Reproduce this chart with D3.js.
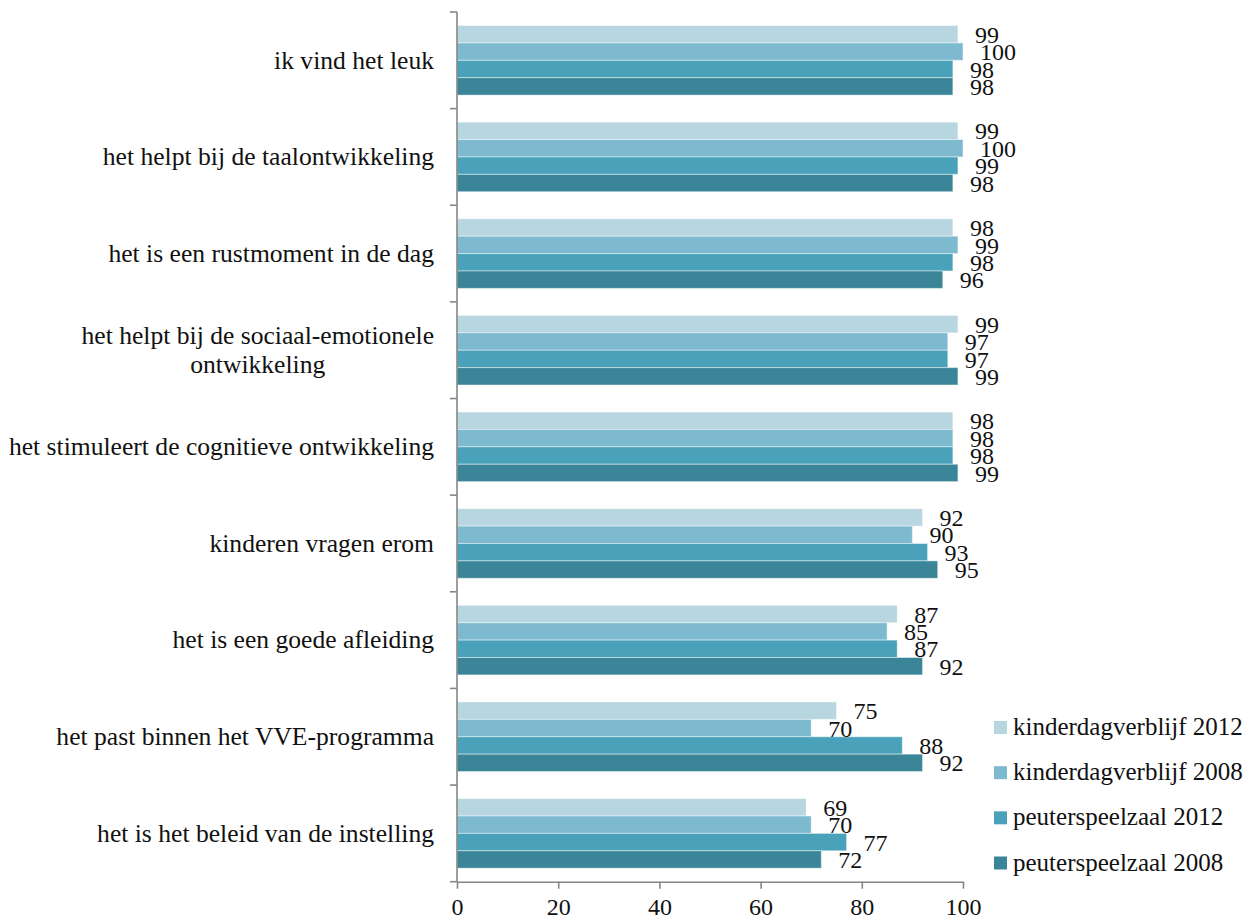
<!DOCTYPE html>
<html>
<head>
<meta charset="utf-8">
<script src="https://cdn.jsdelivr.net/npm/d3@7"></script>
<style>
  html, body { margin: 0; padding: 0; background: #fff; }
</style>
</head>
<body>
<svg id="chart" width="1247" height="921"></svg>
<script>
const categories = [
  ["ik vind het leuk"],
  ["het helpt bij de taalontwikkeling"],
  ["het is een rustmoment in de dag"],
  ["het helpt bij de sociaal-emotionele", "ontwikkeling"],
  ["het stimuleert de cognitieve ontwikkeling"],
  ["kinderen vragen erom"],
  ["het is een goede afleiding"],
  ["het past binnen het VVE-programma"],
  ["het is het beleid van de instelling"]
];
const seriesNames = ["kinderdagverblijf 2012", "kinderdagverblijf 2008", "peuterspeelzaal 2012", "peuterspeelzaal 2008"];
const kdv2012 = [99, 99, 98, 99, 98, 92, 87, 75, 69];
const kdv2008 = [100, 100, 99, 97, 98, 90, 85, 70, 70];
const psz2012 = [98, 99, 98, 97, 98, 93, 87, 88, 77];
const psz2008 = [98, 98, 96, 99, 99, 95, 92, 92, 72];
const xTicks = [0, 20, 40, 60, 80, 100];
const colors = ["#b7d6e0", "#7dbacf", "#49a2b9", "#3a8698"];

const seriesValues = [kdv2012, kdv2008, psz2012, psz2008];
const catKeys = categories.map(c => c.join(" "));
const FONT = "'Liberation Serif', 'DejaVu Serif', serif";

const svg = d3.select("#chart").attr("font-family", FONT);
const plotLeft = 457, plotRight = 963, plotTop = 12, plotBottom = 881.7;

const x = d3.scaleLinear().domain([0, 100]).range([plotLeft, plotRight]);
const y = d3.scaleBand().domain(catKeys).range([plotTop, plotBottom]).padding(0);
const step = y.bandwidth();
const inner = d3.scaleBand().domain(seriesNames).range([step * 0.14, step * 0.86]).padding(0);

// bars
const g = svg.append("g");
catKeys.forEach((ck, i) => {
  seriesNames.forEach((s, j) => {
    const v = seriesValues[j][i];
    const yy = y(ck) + inner(s);
    g.append("rect")
      .attr("x", x(0))
      .attr("y", yy)
      .attr("width", x(v) - x(0))
      .attr("height", inner.bandwidth())
      .attr("fill", colors[j])
      .attr("stroke", "rgba(255,255,255,0.45)")
      .attr("stroke-width", 1);
  });
});

// value labels
catKeys.forEach((ck, i) => {
  seriesNames.forEach((s, j) => {
    const v = seriesValues[j][i];
    const yy = y(ck) + inner(s) + inner.bandwidth() / 2;
    svg.append("text")
      .attr("x", x(v) + 17)
      .attr("y", yy)
      .attr("dy", "0.36em")
      .attr("font-family", FONT)
      .attr("font-size", 24)
      .attr("fill", "#111")
      .text(v);
  });
});

const axisColor = "#868686";

// y axis line + boundary ticks
svg.append("line")
  .attr("x1", plotLeft).attr("x2", plotLeft)
  .attr("y1", plotTop).attr("y2", plotBottom)
  .attr("stroke", axisColor).attr("stroke-width", 1.6);
const bounds = catKeys.map(ck => y(ck)).concat([plotBottom]);
svg.selectAll(".ytick").data(bounds).enter().append("line")
  .attr("x1", plotLeft - 7).attr("x2", plotLeft)
  .attr("y1", d => d).attr("y2", d => d)
  .attr("stroke", axisColor).attr("stroke-width", 1.6);

// x axis
const xAxis = svg.append("g")
  .attr("transform", `translate(0,${plotBottom})`)
  .call(d3.axisBottom(x).tickValues(xTicks).tickSize(7).tickSizeOuter(0));
xAxis.attr("font-family", FONT);
xAxis.select(".domain").attr("stroke", axisColor).attr("stroke-width", 1.6);
xAxis.selectAll(".tick line").attr("stroke", axisColor).attr("stroke-width", 1.6);
xAxis.selectAll(".tick text")
  .attr("y", 33.5).attr("dy", 0)
  .attr("font-size", 24)
  .attr("font-family", FONT)
  .attr("fill", "#111");

// category labels
const labelRight = 434;
catKeys.forEach((ck, i) => {
  const lines = categories[i];
  const cy = y(ck) + step / 2;
  const lh = 29;
  const texts = lines.map((ln, k) => svg.append("text")
    .attr("font-family", FONT)
    .attr("font-size", 25.6)
    .attr("fill", "#111")
    .attr("y", cy + (k - (lines.length - 1) / 2) * lh)
    .attr("dy", "0.32em")
    .text(ln));
  const widths = texts.map(t => t.node().getComputedTextLength());
  const maxW = d3.max(widths);
  texts.forEach(t => t.attr("text-anchor", "middle").attr("x", labelRight - maxW / 2));
});

// legend
const legendY = d3.scalePoint().domain(seriesNames).range([727.5, 863]);
seriesNames.forEach((s, j) => {
  const cy = legendY(s);
  svg.append("rect")
    .attr("x", 994).attr("y", cy - 6.5)
    .attr("width", 13).attr("height", 13)
    .attr("fill", colors[j]);
  svg.append("text")
    .attr("x", 1013).attr("y", cy)
    .attr("dy", "0.3em")
    .attr("font-family", FONT)
    .attr("font-size", 25)
    .attr("fill", "#111")
    .text(s);
});
</script>
</body>
</html>
